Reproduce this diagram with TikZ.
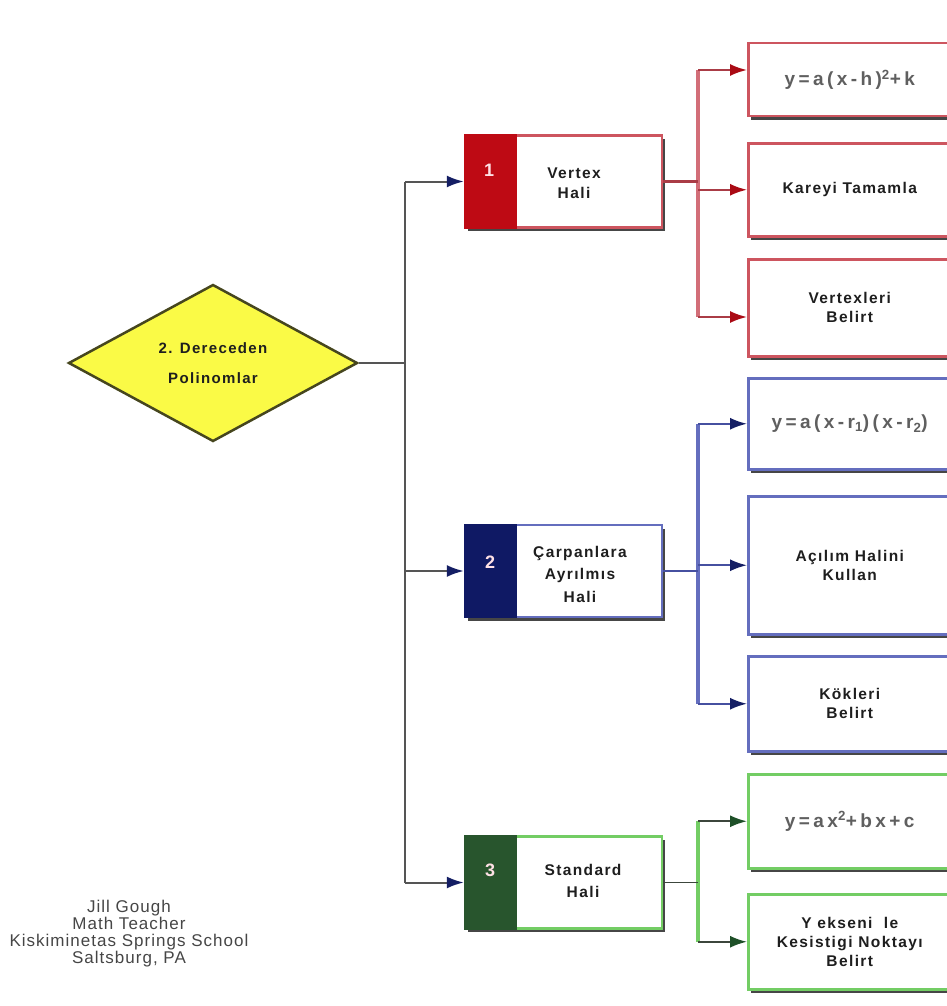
\documentclass[tikz,border=0pt]{standalone}
\usepackage{fontspec}
\setmainfont{Liberation Sans}
\newfontfamily\lblfamily[LetterSpace=9]{Liberation Sans}
\newfontfamily\frmfamily[LetterSpace=18]{Liberation Sans}
\newfontfamily\authfamily[LetterSpace=6]{Liberation Sans}
\newcommand\lblfont{\lblfamily\bfseries\fontsize{15.5}{19}\selectfont}
\newcommand\frmfont{\frmfamily\fontsize{19}{22}\selectfont}
\usetikzlibrary{shapes.geometric,arrows.meta,shadows}
\definecolor{rfill}{RGB}{190,10,20}
\definecolor{rline}{RGB}{205,85,95}
\definecolor{rvertc}{RGB}{210,110,120}
\definecolor{rlinkc}{RGB}{170,60,70}
\definecolor{rarrow}{RGB}{170,10,20}
\definecolor{bfill}{RGB}{15,25,100}
\definecolor{bline}{RGB}{100,110,190}
\definecolor{blinkc}{RGB}{70,80,160}
\definecolor{barrow}{RGB}{20,30,100}
\definecolor{gfill}{RGB}{40,85,45}
\definecolor{gline}{RGB}{115,205,100}
\definecolor{glinkc}{RGB}{60,70,60}
\definecolor{garrow}{RGB}{30,80,40}
\definecolor{shadowc}{RGB}{70,70,70}
\definecolor{trunkc}{RGB}{85,85,85}
\definecolor{dfill}{RGB}{250,250,70}
\definecolor{dline}{RGB}{70,70,30}
\definecolor{txt}{RGB}{30,30,30}
\definecolor{frmc}{RGB}{95,95,95}
\definecolor{numc}{RGB}{255,225,230}
\definecolor{authc}{RGB}{70,70,70}
\tikzset{
  shad/.style={drop shadow={shadow xshift=3pt, shadow yshift=-3.5pt, fill=shadowc, opacity=1}},
  lbox/.style={draw=#1, line width=2.5pt, fill=white, inner sep=0pt, minimum width=197pt, minimum height=92pt, shad},
  rbox/.style={draw=#1, line width=2.5pt, fill=white, inner sep=0pt, minimum width=203pt, anchor=north west, align=center, text=txt, font=\lblfont, shad},
  numtxt/.style={text=numc, font=\lblfamily\bfseries\fontsize{18}{20}\selectfont, inner sep=0pt},
  lbltxt/.style={text=txt, align=center, inner sep=0pt},
  tip/.style={-{Latex[length=17pt, width=12pt, color=#1, fill=#1]}},
  trunkline/.style={draw=trunkc, line width=2pt},
  trunkarr/.style={draw=trunkc, line width=2pt, tip=barrow},
  rvert/.style={draw=rvertc, line width=3.5pt},
  bvert/.style={draw=bline, line width=3.5pt},
  gvert/.style={draw=gline, line width=3.5pt},
  rlink/.style={draw=rlinkc, line width=2.5pt},
  blink/.style={draw=blinkc, line width=2.5pt},
  glink/.style={draw=glinkc, line width=1.5pt},
  rarr/.style={draw=rlinkc, line width=2pt, tip=rarrow},
  barr/.style={draw=blinkc, line width=2pt, tip=barrow},
  garr/.style={draw=glinkc, line width=2pt, tip=garrow},
}
\begin{document}
\begin{tikzpicture}[x=1pt,y=-1pt]
\useasboundingbox (0,0) rectangle (947,1006);
\fill[white] (0,0) rectangle (947,1006);

% diamond
\node[diamond, draw=dline, fill=dfill, line width=2.5pt, minimum width=289pt, minimum height=157pt,
      aspect=1.84, inner sep=0pt, align=center, text=txt,
      font=\lblfamily\bfseries\fontsize{15}{30}\selectfont] (d) at (213,363) {2. Dereceden\\Polinomlar};

% left boxes
\node[lbox=rline] (b1) at (563.5,181.5) {};
\fill[rfill] (b1.north west) rectangle ([xshift=53pt]b1.south west);
\node[numtxt] (k1) at (489,170) {1};
\node[lbltxt, font=\lblfamily\bfseries\fontsize{15.5}{19.5}\selectfont] (v1) at (574,183) {Vertex\\Hali};

\node[lbox=bline] (b2) at (563.5,571) {};
\fill[bfill] (b2.north west) rectangle ([xshift=53pt]b2.south west);
\node[numtxt] (k2) at (490,562) {2};
\node[lbltxt, font=\lblfamily\bfseries\fontsize{15.5}{22.5}\selectfont] (v2) at (580,574) {Çarpanlara\\Ayrılmıs\\Hali};

\node[lbox=gline] (b3) at (563.5,882.5) {};
\fill[gfill] (b3.north west) rectangle ([xshift=53pt]b3.south west);
\node[numtxt] (k3) at (490,870) {3};
\node[lbltxt, font=\lblfamily\bfseries\fontsize{15.5}{22}\selectfont] (v3) at (583,881) {Standard\\Hali};

% right boxes (red)
\node[rbox=rline, minimum height=73pt] (r1) at (747,42) {\frmfont\color{frmc}y=a(x-h)\textsuperscript{2}+k};
\node[rbox=rline, minimum height=93pt] (r2) at (747,142) {Kareyi Tamamla};
\node[rbox=rline, minimum height=97pt] (r3) at (747,258) {Vertexleri\\Belirt};
% right boxes (blue)
\node[rbox=bline, minimum height=91pt] (r4) at (747,377) {\frmfont\color{frmc}y=a(x-r\textsubscript{1})(x-r\textsubscript{2})};
\node[rbox=bline, minimum height=138pt] (r5) at (747,495) {Açılım Halini\\Kullan};
\node[rbox=bline, minimum height=95pt] (r6) at (747,655) {Kökleri\\Belirt};
% right boxes (green)
\node[rbox=gline, minimum height=94pt] (r7) at (747,773) {\frmfont\color{frmc}y=ax\textsuperscript{2}+bx+c};
\node[rbox=gline, minimum height=95pt] (r8) at (747,893) {Y ekseni\ \ le\\Kesistigi Noktayı\\Belirt};

% author
\node[text=authc, align=center, inner sep=0pt, font=\authfamily\fontsize{17}{17}\selectfont] (auth) at (129,934)
  {Jill Gough\\Math Teacher\\Kiskiminetas Springs School\\Saltsburg, PA};

% trunk
\coordinate (tj) at (405,363);
\coordinate (t1) at (tj |- b1.west);
\coordinate (t2) at (tj |- b2.west);
\coordinate (t3) at (tj |- b3.west);
\draw[trunkline] (d.east) -- (tj);
\draw[trunkline] (t1) -- (t3);
\draw[trunkarr] (t1) -- (b1.west);
\draw[trunkarr] (t2) -- (b2.west);
\draw[trunkarr] (t3) -- (b3.west);

% red group
\coordinate (vx) at (698,0);
\coordinate (rj) at (vx |- b1.east);
\coordinate (ra1) at (698,70);
\coordinate (ra2) at (vx |- r2.west);
\coordinate (ra3) at (698,317);
\draw[rvert] (ra1) -- (ra3);
\draw[rlink] (b1.east) -- (rj);
\draw[rarr] (ra1) -- (ra1 -| r1.west);
\draw[rarr] (ra2) -- (r2.west);
\draw[rarr] (ra3) -- (ra3 -| r3.west);

% blue group
\coordinate (bj) at (vx |- b2.east);
\coordinate (ba1) at (vx |- r4.west);
\coordinate (ba2) at (vx |- r5.west);
\coordinate (ba3) at (vx |- r6.west);
\draw[bvert] (ba1) -- (ba3);
\draw[blink] (b2.east) -- (bj);
\draw[barr] (ba1) -- (r4.west);
\draw[barr] (ba2) -- (r5.west);
\draw[barr] (ba3) -- (r6.west);

% green group
\coordinate (gj) at (vx |- b3.east);
\coordinate (ga1) at (vx |- r7.west);
\coordinate (ga2) at (vx |- r8.west);
\draw[gvert] (ga1) -- (ga2);
\draw[glink] (b3.east) -- (gj);
\draw[garr] (ga1) -- (r7.west);
\draw[garr] (ga2) -- (r8.west);
\end{tikzpicture}
\end{document}
